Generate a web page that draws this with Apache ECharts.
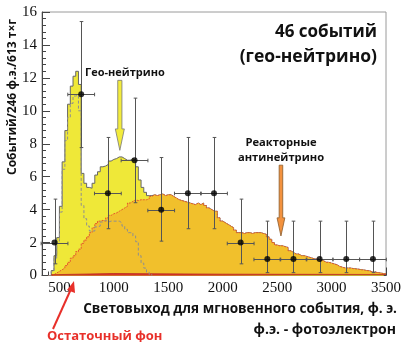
<!DOCTYPE html>
<html>
<head>
<meta charset="utf-8">
<script src="https://cdn.jsdelivr.net/npm/echarts@6/dist/echarts.min.js"></script>
<style>
  html, body { margin: 0; padding: 0; background: #fff; }
  #chart { width: 405px; height: 342px; }
</style>
</head>
<body>
<div id="chart"></div>
<script>
// Fine-binned expected spectra, 25 p.e. bins from 400 to 3500 p.e.
const binStart = 400;
const binWidth = 25;
const binEnd = 3500;

// Reactor antineutrino spectrum (events per 246 p.e.)
const reactor = [
  0, 0.05, 0.15, 0.25, 0.35, 0.45, 0.6, 0.8, 1.05, 1.2, 1.45, 1.6,
  1.95, 2.15, 2.35, 2.6, 2.9, 3.15, 3.3, 3.35, 3.3, 3.5, 3.65, 3.75,
  3.8, 3.9, 4.0, 4.1, 4.2, 4.4, 4.5, 4.6, 4.55, 4.6, 4.6, 4.6, 4.65, 4.8, 4.9, 4.85, 4.9, 4.95, 4.85, 4.9,
  4.9, 4.8, 4.7, 4.6, 4.55, 4.5, 4.45, 4.4, 4.35, 4.3, 4.4, 4.3, 4.4, 4.25, 4.1, 4.0, 3.9, 3.9, 3.5, 3.3,
  3.2, 3.1, 3.0, 2.9, 2.75, 2.6, 2.6, 2.55, 2.6, 2.6, 2.55, 2.6, 2.6, 2.6, 2.55, 2.5, 2.35, 2.2, 2.0, 1.85,
  1.8, 1.8, 1.75, 1.7, 1.5, 1.4, 1.3, 1.3, 1.2, 1.2, 1.15, 1.1, 1.05, 1.0, 1.0, 0.95, 0.9, 0.8, 0.8, 0.75,
  0.7, 0.65, 0.55, 0.5, 0.45, 0.45, 0.45, 0.42, 0.4, 0.38, 0.35, 0.33, 0.3, 0.28, 0.22, 0.2, 0.18, 0.15, 0.12, 0.1
];

// Geo-neutrino spectrum, same binning
const geo = [
  0, 0.25, 1.05, 2.05, 3.85, 6.45, 8.2, 9.6, 10.45, 10.9, 10.95, 10.0,
  4.25, 3.45, 3.0, 2.7, 2.7, 2.95, 3.0, 3.25, 3.35, 3.25, 3.3, 3.3,
  3.3, 3.3, 3.2, 3.0, 2.8, 2.6, 2.6, 2.4, 2.05, 1.2, 0.75, 0.45, 0.2, 0.05, 0, 0, 0, 0, 0, 0,
  0, 0, 0, 0, 0, 0, 0, 0, 0, 0, 0, 0, 0, 0, 0, 0, 0, 0, 0, 0,
  0, 0, 0, 0, 0, 0, 0, 0, 0, 0, 0, 0, 0, 0, 0, 0, 0, 0, 0, 0,
  0, 0, 0, 0, 0, 0, 0, 0, 0, 0, 0, 0, 0, 0, 0, 0, 0, 0, 0, 0,
  0, 0, 0, 0, 0, 0, 0, 0, 0, 0, 0, 0, 0, 0, 0, 0, 0, 0, 0, 0
];

// Residual background: step edges and heights
const bgEdges = [425, 450, 1000, 2000, 3500];
const bgValues = [0.05, 0.12, 0.08, 0.06];

// Measured events per 246 p.e. bin with Poisson intervals
const pointX = [455, 700, 945, 1190, 1435, 1680, 1920, 2165, 2410, 2650, 2890, 3135, 3380];
const pointY = [2, 11, 5, 7, 4, 5, 5, 2, 1, 1, 1, 1, 1];
const errLow = [0.708, 7.768, 2.840, 4.419, 2.086, 2.840, 2.840, 0.708, 0.173, 0.173, 0.173, 0.173, 0.173];
const errHigh = [4.638, 15.42, 8.382, 10.77, 7.163, 8.382, 8.382, 4.638, 3.300, 3.300, 3.300, 3.300, 3.300];
const pointHalfWidth = 123;

// Axis ticks
const xMajorTicks = [500, 1000, 1500, 2000, 2500, 3000, 3500];
const xMinorTicks = [];
for (let v = 400; v < 3500; v += 100) if (v % 500 !== 0) xMinorTicks.push(v);

// Step-histogram points: left edges plus closing edge
function toSteps(vals) {
  const pts = vals.map((v, i) => [binStart + i * binWidth, v]);
  pts.push([binEnd, vals[vals.length - 1]]);
  return pts;
}
// Expected total = reactor + geo
const expectedTotal = reactor.map((r, i) => r + geo[i]);

const bgSteps = bgValues.map((v, i) => [bgEdges[i], v]);
bgSteps.push([bgEdges[bgEdges.length - 1], bgValues[bgValues.length - 1]]);

// Geo-only curve ends where the spectrum returns to zero
const geoEnd = geo.findIndex((v, i) => i > 12 && v === 0);
const geoLine = geo.slice(0, geoEnd + 1).map((v, i) => [binStart + i * binWidth, v]);

const SANS = '"Open Sans", "DejaVu Sans", sans-serif';
const SERIF = '"Liberation Serif", "DejaVu Serif", serif';

const chart = echarts.init(document.getElementById('chart'));

const option = {
  animation: false,
  grid: {
    left: 42, right: 19, top: 12, bottom: 66.5,
    containLabel: false, outerBoundsMode: 'none',
    show: true, borderColor: '#9a9a9a', borderWidth: 1, backgroundColor: 'transparent'
  },
  xAxis: [
    {
      type: 'value', min: 340, max: 3500,
      axisLine: { show: true, onZero: false, lineStyle: { color: '#444', width: 1 } },
      axisTick: { show: true, inside: true, length: 8, customValues: xMajorTicks, lineStyle: { color: '#444' } },
      axisLabel: {
        customValues: xMajorTicks, fontFamily: SERIF, fontSize: 15, color: '#111', margin: 5,
        formatter: v => String(v)
      },
      splitLine: { show: false }
    },
    {
      type: 'value', min: 340, max: 3500, position: 'bottom',
      axisLine: { show: false },
      axisTick: { show: true, inside: true, length: 4, customValues: xMinorTicks, lineStyle: { color: '#444' } },
      axisLabel: { show: false },
      splitLine: { show: false }
    }
  ],
  yAxis: {
    type: 'value', min: 0, max: 16, interval: 2,
    axisLine: { show: true, lineStyle: { color: '#444', width: 1 } },
    axisTick: { show: true, inside: true, length: 8, lineStyle: { color: '#444' } },
    minorTick: { show: true, splitNumber: 5, length: 4, lineStyle: { color: '#444' } },
    axisLabel: { fontFamily: SERIF, fontSize: 15, color: '#111', margin: 5 },
    splitLine: { show: false }
  },
  series: [
    {
      name: 'total', type: 'line', step: 'end',
      data: toSteps(expectedTotal), showSymbol: false, z: 1,
      areaStyle: { color: '#efe838', opacity: 1 },
      lineStyle: { color: '#666', width: 1 }
    },
    {
      name: 'reactor', type: 'line', step: 'end',
      data: toSteps(reactor), showSymbol: false, z: 2,
      areaStyle: { color: '#f1c02c', opacity: 1 },
      lineStyle: { color: '#e4572e', width: 1, type: [2, 1] }
    },
    {
      name: 'background', type: 'line', step: 'end',
      data: bgSteps, showSymbol: false, z: 3,
      areaStyle: { color: '#d8322a', opacity: 1 },
      lineStyle: { color: '#b82a22', width: 0.8 }
    },
    {
      name: 'geoOnly', type: 'line', step: 'end',
      data: geoLine, showSymbol: false, z: 4,
      lineStyle: { color: '#8f8f8f', width: 1, type: [3, 2] }
    },
    {
      name: 'errors', type: 'custom', z: 5,
      data: pointX.map((x, i) => [x, errLow[i], errHigh[i], pointY[i]]),
      renderItem: function (params, api) {
        const x = api.value(0), lo = api.value(1), hi = api.value(2), y = api.value(3);
        const pLo = api.coord([x, lo]);
        const pHi = api.coord([x, hi]);
        const pL = api.coord([x - pointHalfWidth, y]);
        const pR = api.coord([x + pointHalfWidth, y]);
        const cx = Math.round(pLo[0]) + 0.5;
        const cy = Math.round(pL[1]) + 0.5;
        const c = 1.8;
        const style = { stroke: '#555', lineWidth: 1 };
        const seg = (x1, y1, x2, y2) => ({ type: 'line', shape: { x1, y1, x2, y2 }, style });
        return {
          type: 'group',
          children: [
            seg(cx, pLo[1], cx, pHi[1]),
            seg(pL[0], cy, pR[0], cy),
            seg(cx - c, pHi[1], cx + c, pHi[1]),
            seg(cx - c, pLo[1], cx + c, pLo[1]),
            seg(pL[0], cy - c, pL[0], cy + c),
            seg(pR[0], cy - c, pR[0], cy + c)
          ]
        };
      }
    },
    {
      name: 'data', type: 'scatter', z: 6,
      data: pointX.map((x, i) => [x, pointY[i]]),
      symbol: 'circle', symbolSize: 6,
      itemStyle: { color: '#000' }
    }
  ]
};

chart.setOption(option);

// Annotation arrows placed in data coordinates
function downArrow(xv, yTop, yHead, yTip, shaft, head, fill, stroke) {
  const top = chart.convertToPixel({ gridIndex: 0 }, [xv, yTop]);
  const hd = chart.convertToPixel({ gridIndex: 0 }, [xv, yHead]);
  const tip = chart.convertToPixel({ gridIndex: 0 }, [xv, yTip]);
  const x = top[0];
  return {
    type: 'polygon', z: 10,
    shape: {
      points: [
        [x - shaft, top[1]], [x + shaft, top[1]], [x + shaft, hd[1]],
        [x + head, hd[1]], [x, tip[1]], [x - head, hd[1]], [x - shaft, hd[1]]
      ]
    },
    style: { fill: fill, stroke: stroke, lineWidth: 0.8 }
  };
}

const label = (text, x, y, size, align, color) => ({
  type: 'text', x: x, y: y, z: 10,
  style: {
    text: text, fill: color || '#111', font: '700 ' + size + 'px ' + SANS,
    align: align, verticalAlign: 'middle'
  }
});

chart.setOption({
  graphic: [
    label('46 событий', 377, 32, 17, 'right'),
    label('(гео-нейтрино)', 377, 57, 17.5, 'right'),
    label('Гео-нейтрино', 85, 73, 11, 'left'),
    downArrow(1055, 11.85, 8.9, 7.6, 2.1, 4.5, '#f3ec3c', '#777'),
    label('Реакторные', 281, 143, 11.2, 'center'),
    label('антинейтрино', 281, 158, 11.2, 'center'),
    downArrow(2535, 6.7, 3.5, 2.4, 1.8, 3.9, '#f3923e', '#8a5a2a'),
    label('Световыход для мгновенного события, ф. э.', 397, 309, 13.6, 'right'),
    label('ф.э. - фотоэлектрон', 396, 330, 14, 'right'),
    label('Остаточный фон', 47, 336, 13, 'left', '#e8302a'),
    {
      type: 'line', z: 10,
      shape: { x1: 53, y1: 329, x2: 71, y2: 289 },
      style: { stroke: '#e8302a', lineWidth: 2 }
    },
    {
      type: 'polygon', z: 10,
      shape: { points: [[74, 281], [67, 290], [75, 293]] },
      style: { fill: '#e8302a' }
    },
    {
      type: 'text', x: 12.5, y: 97, rotation: Math.PI / 2, z: 10,
      style: {
        text: 'Событий/246 ф.э./613 т×г', fill: '#111', font: '700 12px ' + SANS,
        align: 'center', verticalAlign: 'middle'
      }
    }
  ]
});
</script>
</body>
</html>
